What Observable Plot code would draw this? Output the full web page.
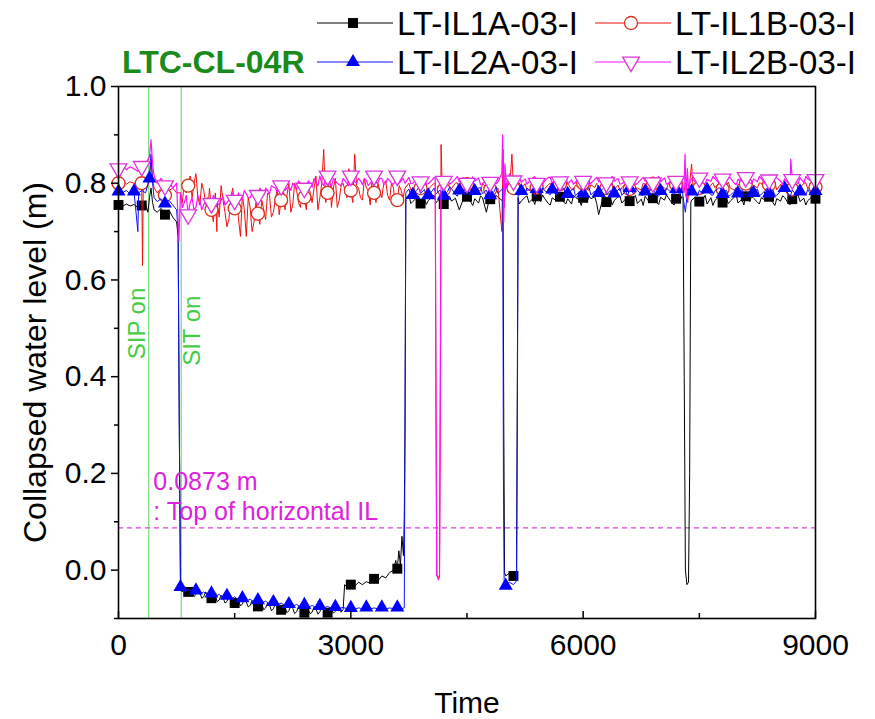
<!DOCTYPE html>
<html><head><meta charset="utf-8">
<script src="https://cdn.jsdelivr.net/npm/d3@7"></script>
<script src="https://cdn.jsdelivr.net/npm/@observablehq/plot@0.6"></script>
<style>
body{margin:0;background:#fff;font-family:"Liberation Sans",Arial,sans-serif;}
#wrap{position:relative;width:875px;height:719px;overflow:hidden}
#legend{position:absolute;left:0;top:0;width:875px;height:86px;}
.item{position:absolute;display:flex;align-items:center;height:32px;font-size:33px;line-height:1;color:#000;white-space:nowrap}
.item svg{margin-right:4px;overflow:visible}
.title{position:absolute;left:122px;top:46px;height:32px;line-height:32px;font-size:32px;font-weight:bold;color:#1a8a1a}
</style></head><body>
<div id="wrap"><div id="chart"></div><div id="legend"></div></div>
<script>
// ---- data ----
const seriesNames = ["LT-IL1A-03-I", "LT-IL1B-03-I", "LT-IL2A-03-I", "LT-IL2B-03-I"];
const testName = "LTC-CL-04R";
const yLabel = "Collapsed water level (m)";
const xLabel = "Time";
const xTicks = [0, 3000, 6000, 9000];
const xMinorTicks = [1500, 4500, 7500];
const yTicks = [0.0, 0.2, 0.4, 0.6, 0.8, 1.0];
const yMinorTicks = [-0.1, 0.1, 0.3, 0.5, 0.7, 0.9];
const events = [{label: "SIP on", t: 390, y: 0.51, side: -1}, {label: "SIT on", t: 810, y: 0.495, side: 1}];
const ilTop = 0.0873;
const ilNote = [{t: 450, y: 0.0873, text: "0.0873 m\n: Top of horizontal IL"}];

const IL1A = [[0,.755],[50,.752],[100,.757],[150,.753],[200,.756],[250,.75],[300,.754],[350,.757],[380,.74],[400,.77],[420,.79],[440,.76],[460,.745],[500,.74],[550,.748],[600,.735],[650,.745],[700,.73],[750,.72],[770,.69],[785,.3],[800,-.03],[820,-.045],[850,-.04],
[900,-.045],[950,-.042],[1000,-.05],[1050,-.046],[1100,-.055],[1150,-.05],[1200,-.058],[1250,-.054],[1300,-.062],[1350,-.057],[1400,-.065],[1450,-.06],[1500,-.068],[1550,-.063],[1600,-.07],[1650,-.066],[1700,-.073],[1750,-.068],[1800,-.075],[1850,-.07],[1900,-.078],[1950,-.072],[2000,-.08],[2050,-.075],[2100,-.082],[2150,-.077],[2200,-.084],[2250,-.079],[2300,-.086],[2350,-.08],[2400,-.088],[2450,-.082],[2500,-.087],[2550,-.08],[2600,-.086],[2650,-.079],[2700,-.088],[2750,-.081],[2800,-.085],[2850,-.078],[2900,-.082],
[2920,-.03],[2950,-.035],[3000,-.03],[3050,-.033],[3100,-.025],[3150,-.03],[3200,-.024],[3250,-.027],[3300,-.018],[3350,-.022],[3400,-.012],[3450,-.016],[3500,-.005],[3550,0],[3580,.02],[3600,.003],[3620,.04],[3640,.01],[3660,.07],[3680,.03],[3690,.11],[3700,.3],[3710,.77],
[3750,.775],[3800,.762],[3850,.770],[3900,.758],[3950,.768],[4000,.764],[4050,.772],[4100,.760],[4150,.768],[4200,.757],[4250,.771],[4300,.763],[4350,.769],[4400,.745],[4450,.766],[4500,.772],[4550,.761],[4600,.768],[4650,.759],[4700,.770],[4750,.740],[4800,.767],[4850,.762],[4900,.771],[4950,.765],
[4965,.76],[4975,.30],[4985,-.005],[5000,-.012],[5050,-.006],[5100,-.012],[5140,-.008],[5150,.40],[5160,.77],
[5200,.763],[5250,.771],[5300,.760],[5350,.768],[5400,.773],[5450,.762],[5500,.769],[5550,.758],[5600,.770],[5650,.764],[5700,.772],[5750,.761],[5800,.768],[5850,.757],[5900,.771],[5950,.765],[6000,.770],[6050,.760],[6100,.768],[6150,.772],[6200,.735],[6250,.766],[6300,.761],[6350,.770],[6400,.764],[6450,.772],[6500,.759],[6550,.768],[6600,.763],[6650,.771],[6700,.758],[6750,.767],[6800,.773],[6850,.762],[6900,.769],[6950,.760],[7000,.771],[7050,.765],[7100,.770],[7150,.758],[7200,.768],[7250,.763],
[7290,.77],[7305,.40],[7320,0],[7340,-.03],[7360,-.025],[7375,.2],[7390,.76],
[7400,.765],[7450,.771],[7500,.762],[7550,.769],[7600,.757],[7650,.770],[7700,.764],[7750,.772],[7800,.760],[7850,.768],[7900,.763],[7950,.771],[8000,.759],[8050,.767],[8100,.773],[8150,.762],[8200,.769],[8250,.761],[8300,.770],[8350,.765],[8400,.772],[8450,.760],[8500,.768],[8550,.763],[8600,.771],[8650,.758],[8700,.767],[8750,.773],[8800,.762],[8850,.769],[8900,.764],[8950,.771],[9000,.768]];
const IL1A_fine = [[875,-.052],[925,-.038],[975,-.055],[1025,-.04],[1075,-.058],[1125,-.045],[1175,-.062],[1225,-.05],[1275,-.065],[1325,-.052],[1375,-.068],[1425,-.055],[1475,-.07],[1525,-.058],[1575,-.074],[1625,-.06],[1675,-.076],[1725,-.063],[1775,-.079],[1825,-.065],[1875,-.082],[1925,-.068],[1975,-.084],[2025,-.07],[2075,-.086],[2125,-.072],[2175,-.088],[2225,-.074],[2275,-.09],[2325,-.075],[2375,-.091],[2425,-.077],[2475,-.09],[2525,-.076],[2575,-.091],[2625,-.075],[2675,-.09],[2725,-.077],[2775,-.089],[2825,-.076],[2875,-.087],
[3775,.758],[3875,.774],[3975,.756],[4075,.775],[4175,.755],[4275,.773],[4375,.757],[4475,.776],[4575,.754],[4675,.774],[4775,.758],[4875,.775],[5175,.757],[5275,.774],[5375,.756],[5475,.776],[5575,.755],[5675,.773],[5775,.757],[5875,.775],[5975,.754],[6075,.774],[6175,.758],[6275,.776],[6375,.755],[6475,.773],[6575,.757],[6675,.775],[6775,.754],[6875,.774],[6975,.756],[7075,.776],[7175,.755],[7275,.773],[7475,.757],[7575,.775],[7675,.754],[7775,.774],[7875,.758],[7975,.776],[8075,.755],[8175,.773],[8275,.757],[8375,.775],[8475,.754],[8575,.774],[8675,.756],[8775,.776],[8875,.755],[8975,.773]];

const IL1B = [[0,.80],[50,.805],[100,.798],[150,.803],[200,.80],[250,.795],[300,.80],[310,.63],[320,.80],[350,.795],[400,.815],[420,.85],[440,.81],[460,.79],[500,.78],[550,.79],[600,.775],[650,.785],[700,.79],[750,.78],
[800,.78],[850,.805],[900,.795],[950,.77],[1000,.82],[1050,.755],[1100,.785],[1150,.735],[1200,.745],[1250,.78],[1270,.70],[1300,.73],[1350,.765],[1400,.71],[1450,.77],[1500,.748],[1550,.725],[1600,.775],[1650,.69],[1700,.75],[1750,.72],[1800,.737],[1850,.765],[1900,.725],[1950,.775],[2000,.74],[2050,.79],[2100,.765],[2150,.745],[2200,.80],[2250,.755],[2300,.785],[2350,.75],[2400,.771],[2450,.80],[2500,.76],[2550,.815],[2600,.77],[2650,.87],[2700,.78],[2750,.75],[2800,.81],[2850,.765],[2900,.80],[2950,.77],[3000,.785],[3050,.86],[3100,.79],[3150,.765],[3200,.79],[3250,.755],[3300,.78],[3350,.80],[3400,.77],[3450,.805],[3500,.765],[3550,.79],[3600,.765],[3650,.785],[3700,.79],
[3750,.80],[3800,.788],[3850,.797],[3900,.790],[3950,.799],[4000,.787],[4050,.796],[4090,.80],[4100,.30],[4110,-.012],[4130,-.015],[4145,-.01],[4155,.40],[4165,.88],[4180,.79],
[4200,.787],[4250,.797],[4300,.789],[4350,.800],[4400,.791],[4450,.785],[4500,.798],[4550,.790],[4600,.796],[4650,.786],[4700,.799],[4750,.792],[4800,.787],[4850,.797],[4900,.790],[4950,.70],[4965,.87],[4980,.75],[5000,.80],[5050,.79],[5080,.86],[5100,.79],
[5150,.797],[5200,.789],[5250,.799],[5300,.786],[5350,.796],[5400,.791],[5450,.800],[5500,.788],[5550,.797],[5600,.790],[5650,.786],[5700,.798],[5750,.791],[5800,.799],[5850,.787],[5900,.796],[5950,.790],[6000,.800],[6050,.788],[6100,.797],[6150,.791],[6200,.786],[6250,.798],[6300,.790],[6350,.799],[6400,.787],[6450,.796],[6500,.791],[6550,.800],[6600,.788],[6650,.797],[6700,.790],[6750,.786],[6800,.798],[6850,.791],[6900,.799],[6950,.787],[7000,.796],[7050,.790],[7100,.800],[7150,.788],[7200,.797],[7250,.791],
[7300,.78],[7320,.80],[7350,.76],[7400,.84],[7420,.79],
[7450,.798],[7500,.790],[7550,.799],[7600,.787],[7650,.796],[7700,.791],[7750,.800],[7800,.788],[7850,.797],[7900,.790],[7950,.786],[8000,.798],[8050,.791],[8100,.799],[8150,.787],[8200,.796],[8250,.790],[8300,.800],[8350,.788],[8400,.797],[8450,.791],[8500,.786],[8550,.798],[8600,.790],[8650,.799],[8700,.787],[8750,.796],[8800,.791],[8850,.800],[8900,.788],[8950,.797],[9000,.792]];
const IL1B_fine = [[825,.76],[875,.78],[925,.815],[975,.80],[1025,.77],[1075,.80],[1125,.76],[1175,.79],[1225,.72],[1275,.76],[1325,.795],[1375,.74],[1425,.725],[1475,.79],[1525,.77],[1575,.69],[1625,.745],[1675,.77],[1725,.70],[1775,.76],[1825,.715],[1875,.745],[1925,.78],[1975,.73],[2025,.765],[2075,.735],[2125,.80],[2175,.775],[2225,.74],[2275,.80],[2325,.76],[2375,.79],[2425,.745],[2475,.78],[2525,.79],[2575,.745],[2625,.80],[2675,.76],[2725,.82],[2775,.79],[2825,.75],[2875,.795],[2925,.785],[2975,.83],[3025,.76],[3075,.795],[3125,.77],[3175,.81],[3225,.785],[3275,.81],[3325,.76],[3375,.785],[3425,.80],[3475,.775],[3525,.80],[3575,.755],[3625,.795],[3675,.77],
[3775,.786],[3875,.801],[3975,.785],[4075,.800],[4275,.785],[4375,.801],[4475,.786],[4575,.802],[4675,.784],[4775,.800],[4875,.786],[5175,.801],[5275,.785],[5375,.802],[5475,.786],[5575,.800],[5675,.784],[5775,.801],[5875,.786],[5975,.802],[6075,.785],[6175,.800],[6275,.786],[6375,.801],[6475,.784],[6575,.802],[6675,.786],[6775,.800],[6875,.785],[6975,.801],[7075,.786],[7175,.802],[7275,.784],[7475,.800],[7575,.786],[7675,.801],[7775,.785],[7875,.802],[7975,.786],[8075,.800],[8175,.784],[8275,.801],[8375,.786],[8475,.802],[8575,.785],[8675,.800],[8775,.786],[8875,.801],[8975,.785]];

const IL2A = [[0,.783],[50,.78],[100,.785],[150,.778],[200,.783],[250,.70],[260,.78],[300,.785],[350,.78],[400,.81],[420,.86],[440,.80],[460,.77],[500,.762],[550,.768],[600,.758],[650,.765],[700,.755],[750,.745],[770,.70],[785,.3],[800,-.035],[820,-.03],[850,-.045],
[900,-.04],[950,-.045],[1000,-.042],[1050,-.05],[1100,-.045],[1150,-.052],[1200,-.048],[1250,-.055],[1300,-.05],[1350,-.058],[1400,-.053],[1450,-.06],[1500,-.055],[1550,-.062],[1600,-.058],[1650,-.064],[1700,-.06],[1750,-.066],[1800,-.062],[1850,-.068],[1900,-.064],[1950,-.07],[2000,-.066],[2050,-.072],[2100,-.068],[2150,-.073],[2200,-.07],[2250,-.075],[2300,-.071],[2350,-.076],[2400,-.072],[2450,-.077],[2500,-.073],[2550,-.077],[2600,-.074],[2650,-.078],[2700,-.075],[2750,-.079],[2800,-.076],[2850,-.079],[2900,-.077],[2950,-.08],[3000,-.078],[3050,-.081],[3100,-.078],[3150,-.08],[3200,-.077],[3250,-.081],[3300,-.078],[3350,-.08],[3400,-.077],[3450,-.081],[3500,-.078],[3550,-.08],[3600,-.077],[3650,-.08],[3690,-.078],[3700,.3],[3710,.78],
[3750,.788],[3800,.776],[3850,.785],[3900,.779],[3950,.787],[4000,.775],[4050,.784],[4100,.778],[4150,.786],[4200,.774],[4250,.783],[4300,.789],[4350,.777],[4400,.785],[4450,.779],[4500,.787],[4550,.776],[4600,.784],[4650,.790],[4700,.778],[4750,.786],[4800,.775],[4850,.783],[4900,.779],[4950,.787],
[4962,.79],[4970,.20],[4980,-.03],[5000,-.032],[5050,-.025],[5100,-.03],[5140,-.022],[5150,.3],[5160,.78],
[5200,.784],[5250,.777],[5300,.786],[5350,.780],[5400,.788],[5450,.776],[5500,.785],[5550,.779],[5600,.787],[5650,.775],[5700,.784],[5750,.790],[5800,.778],[5850,.786],[5900,.774],[5950,.783],[6000,.779],[6050,.787],[6100,.776],[6150,.784],[6200,.780],[6250,.788],[6300,.777],[6350,.785],[6400,.779],[6450,.786],[6500,.775],[6550,.784],[6600,.790],[6650,.778],[6700,.786],[6750,.776],[6800,.783],[6850,.779],[6900,.787],[6950,.775],[7000,.784],[7050,.778],[7100,.786],[7150,.780],[7200,.788],[7250,.776],
[7300,.76],[7320,.74],[7350,.79],
[7400,.783],[7450,.777],[7500,.785],[7550,.779],[7600,.787],[7650,.776],[7700,.784],[7750,.790],[7800,.778],[7850,.786],[7900,.775],[7950,.783],[8000,.779],[8050,.787],[8100,.776],[8150,.784],[8200,.780],[8250,.788],[8300,.777],[8350,.785],[8400,.779],[8450,.786],[8500,.775],[8550,.784],[8600,.790],[8650,.778],[8700,.786],[8750,.776],[8800,.783],[8850,.779],[8900,.787],[8950,.775],[9000,.784]];
const IL2A_fine = [[3775,.776],[3875,.791],[3975,.774],[4075,.790],[4175,.775],[4275,.792],[4375,.773],[4475,.790],[4575,.776],[4675,.791],[4775,.774],[4875,.792],[5175,.775],[5275,.790],[5375,.773],[5475,.791],[5575,.776],[5675,.792],[5775,.774],[5875,.790],[5975,.775],[6075,.791],[6175,.773],[6275,.792],[6375,.776],[6475,.790],[6575,.774],[6675,.791],[6775,.775],[6875,.792],[6975,.773],[7075,.790],[7175,.776],[7275,.791],[7475,.774],[7575,.792],[7675,.775],[7775,.790],[7875,.773],[7975,.791],[8075,.776],[8175,.792],[8275,.774],[8375,.790],[8475,.775],[8575,.791],[8675,.773],[8775,.792],[8875,.776],[8975,.790]];

const IL2B = [[0,.83],[50,.836],[100,.828],[150,.834],[200,.83],[250,.825],[300,.835],[350,.84],[400,.855],[420,.89],[440,.84],[460,.815],[500,.80],[550,.81],[600,.795],[650,.805],[700,.79],[750,.80],[780,.68],[800,.78],
[850,.76],[900,.735],[950,.77],[1000,.75],[1050,.765],[1100,.755],[1150,.77],[1200,.758],[1250,.765],[1300,.755],[1350,.772],[1400,.76],[1450,.775],[1500,.765],[1550,.78],[1600,.768],[1650,.778],[1700,.77],[1750,.785],[1800,.775],[1850,.782],[1900,.79],[1950,.778],[2000,.792],[2050,.782],[2100,.795],[2150,.785],[2200,.792],[2250,.80],[2300,.787],[2350,.80],[2400,.79],[2450,.805],[2500,.792],[2550,.80],[2600,.815],[2650,.795],[2700,.815],[2750,.793],[2800,.805],[2850,.797],[2900,.81],[2950,.80],[3000,.815],[3050,.803],[3100,.81],[3150,.797],[3200,.806],[3250,.80],[3300,.815],[3350,.802],[3400,.81],[3450,.80],[3500,.806],[3550,.798],[3600,.815],[3650,.805],[3700,.80],
[3750,.812],[3800,.800],[3850,.808],[3900,.803],[3950,.811],[4000,.799],[4050,.807],[4090,.81],[4100,.35],[4110,-.01],[4130,-.02],[4145,-.015],[4155,.30],[4165,.81],
[4200,.804],[4250,.810],[4300,.801],[4350,.809],[4400,.803],[4450,.812],[4500,.800],[4550,.808],[4600,.804],[4650,.811],[4700,.799],[4750,.807],[4800,.802],[4850,.810],[4900,.803],[4950,.82],[4960,.90],[4975,.72],[4990,.84],[5010,.79],[5050,.82],[5100,.805],
[5150,.81],[5200,.802],[5250,.809],[5300,.803],[5350,.811],[5400,.800],[5450,.808],[5500,.804],[5550,.812],[5600,.801],[5650,.809],[5700,.803],[5750,.810],[5800,.799],[5850,.807],[5900,.802],[5950,.811],[6000,.804],[6050,.809],[6100,.800],[6150,.808],[6200,.803],[6250,.811],[6300,.801],[6350,.809],[6400,.804],[6450,.810],[6500,.799],[6550,.807],[6600,.803],[6650,.812],[6700,.800],[6750,.808],[6800,.804],[6850,.810],[6900,.801],[6950,.809],[7000,.803],[7050,.811],[7100,.800],[7150,.808],[7200,.804],[7250,.81],
[7300,.78],[7315,.86],[7330,.77],[7345,.83],[7360,.79],
[7400,.81],[7450,.803],[7500,.811],[7550,.800],[7600,.808],[7650,.804],[7700,.810],[7750,.801],[7800,.809],[7850,.803],[7900,.811],[7950,.800],[8000,.808],[8050,.804],[8100,.812],[8150,.801],[8200,.809],[8250,.803],[8300,.810],[8350,.799],[8400,.807],[8450,.802],[8500,.811],[8550,.804],[8600,.809],[8650,.800],[8680,.85],[8700,.808],[8750,.803],[8800,.811],[8850,.801],[8900,.809],[8950,.804],[9000,.808]];
const IL2B_fine = [[825,.75],[875,.775],[925,.76],[975,.745],[1025,.775],[1075,.745],[1125,.765],[1175,.75],[1225,.775],[1275,.76],[1325,.765],[1375,.755],[1425,.765],[1475,.78],[1525,.77],[1575,.765],[1625,.785],[1675,.77],[1725,.78],[1775,.775],[1825,.79],[1875,.775],[1925,.785],[1975,.795],[2025,.79],[2075,.785],[2125,.80],[2175,.79],[2225,.785],[2275,.795],[2325,.805],[2375,.795],[2425,.79],[2475,.80],[2525,.81],[2575,.795],[2625,.80],[2675,.81],[2725,.80],[2775,.81],[2825,.80],[2875,.795],[2925,.805],[2975,.795],[3025,.81],[3075,.80],[3125,.805],[3175,.81],[3225,.795],[3275,.805],[3325,.80],[3375,.81],[3425,.797],[3475,.81],[3525,.80],[3575,.805],[3625,.80],[3675,.81],
[3775,.799],[3875,.814],[3975,.798],[4075,.812],[4175,.80],[4275,.798],[4375,.814],[4475,.799],[4575,.813],[4675,.797],[4775,.812],[4875,.799],[5075,.80],[5175,.813],[5275,.798],[5375,.814],[5475,.797],[5575,.812],[5675,.799],[5775,.814],[5875,.798],[5975,.813],[6075,.797],[6175,.812],[6275,.799],[6375,.814],[6475,.798],[6575,.813],[6675,.797],[6775,.812],[6875,.799],[6975,.814],[7075,.798],[7175,.813],[7275,.797],[7375,.80],[7475,.812],[7575,.799],[7675,.814],[7775,.798],[7875,.813],[7975,.797],[8075,.812],[8175,.799],[8275,.814],[8375,.798],[8475,.813],[8575,.797],[8675,.812],[8775,.799],[8875,.814],[8975,.798]];

// ---- styles ----
const rows = (...arrs) => arrs.flat().map(([t, v]) => ({t, v})).sort((a, b) => a.t - b.t);
const series = [
  {name: seriesNames[0], data: rows(IL1A, IL1A_fine), line: "#000000", symbol: "square", sym: d3.symbolSquare, fill: "#000000", stroke: "none", r: 5.6, every: 300, rotate: 0, sw: 1},
  {name: seriesNames[1], data: rows(IL1B, IL1B_fine), line: "#f01010", symbol: "circle", sym: d3.symbolCircle, fill: "#ffffff", stroke: "#d8301c", r: 6.5, every: 300, rotate: 0, sw: 1},
  {name: seriesNames[2], data: rows(IL2A, IL2A_fine), line: "#1010ff", symbol: "triangle", sym: d3.symbolTriangle, fill: "#0000ff", stroke: "none", r: 5.2, every: 200, rotate: 0, sw: 1},
  {name: seriesNames[3], data: rows(IL2B, IL2B_fine), line: "#ff10ff", symbol: "triangle", sym: d3.symbolTriangle, fill: "#ffffff", stroke: "#dd33dd", r: 6.2, every: 300, rotate: 180, sw: 1.2}
];
const font = '"Liberation Sans", Arial, sans-serif';

const seriesMarks = series.flatMap(s => [
  Plot.lineY(s.data, {x: "t", y: "v", stroke: s.line, strokeWidth: s.sw}),
  Plot.dot(s.data.filter(p => p.t % s.every === 0), {x: "t", y: "v", symbol: s.symbol, r: s.r, fill: s.fill, stroke: s.stroke, strokeWidth: 1.3, rotate: s.rotate})
]);

const chart = Plot.plot({
  width: 875, height: 719,
  marginLeft: 118, marginRight: 60, marginTop: 86, marginBottom: 101,
  style: {fontFamily: font, fontSize: "30px", color: "#000", background: "#fff", overflow: "visible"},
  x: {domain: [0, 9000]},
  y: {domain: [-0.1, 1.0]},
  marks: [
    Plot.ruleX(events, {x: "t", stroke: "#77dd77", strokeWidth: 1.2}),
    Plot.ruleY([ilTop], {stroke: "#e040e0", strokeWidth: 1.3, strokeDasharray: "5,4"}),
    ...seriesMarks,
    Plot.text(events.filter(e => e.side < 0), {x: "t", y: "y", text: "label", rotate: -90, dx: -11, fill: "#44cc44", fontSize: 24, textAnchor: "middle"}),
    Plot.text(events.filter(e => e.side > 0), {x: "t", y: "y", text: "label", rotate: -90, dx: 11, fill: "#44cc44", fontSize: 24, textAnchor: "middle"}),
    Plot.text(ilNote, {x: "t", y: "y", text: "text", textAnchor: "start", lineAnchor: "bottom", lineHeight: 1.2, dy: -8, fill: "#dd22dd", fontSize: 25}),
    Plot.frame({stroke: "#000", strokeWidth: 1.6}),
    Plot.axisY({ticks: yTicks, tickFormat: d3.format(".1f"), tickSize: 7, tickPadding: 5, strokeWidth: 1.5, label: null}),
    Plot.axisY({ticks: yMinorTicks, tickSize: 4, strokeWidth: 1.5, text: null, label: null}),
    Plot.text([yLabel], {frameAnchor: "left", rotate: -90, dx: -83, dy: 10, fontSize: 32, textAnchor: "middle", fill: "#000"}),
    Plot.axisX({ticks: xTicks, tickSize: 0, tickPadding: 15, tickFormat: d => String(d), label: xLabel, labelAnchor: "center", labelArrow: "none", labelOffset: 94}),
    Plot.axisX({ticks: xTicks, tickSize: -7, strokeWidth: 1.5, text: null, label: null}),
    Plot.axisX({ticks: xMinorTicks, tickSize: -5, strokeWidth: 1.5, text: null, label: null})
  ]
});
document.getElementById("chart").append(chart);

// ---- legend (HTML, above the frame) ----
const legend = d3.select("#legend");
legend.append("div").attr("class", "title").text(testName);
const slots = [{left: 317, top: 7}, {left: 595, top: 7}, {left: 317, top: 46}, {left: 595, top: 46}];
series.forEach((s, i) => {
  const item = legend.append("div").attr("class", "item").style("left", slots[i].left + "px").style("top", slots[i].top + "px");
  const svg = item.append("svg").attr("width", 76).attr("height", 32);
  svg.append("line").attr("x1", 0).attr("x2", 76).attr("y1", 16).attr("y2", 16).attr("stroke", s.line).attr("stroke-width", 1.2);
  svg.append("path").attr("d", d3.symbol(s.sym, Math.PI * s.r * s.r)()).attr("transform", `translate(36,16) rotate(${s.rotate})`)
    .attr("fill", s.fill).attr("stroke", s.stroke).attr("stroke-width", 1.3);
  item.append("span").text(s.name);
});
</script>
</body></html>
